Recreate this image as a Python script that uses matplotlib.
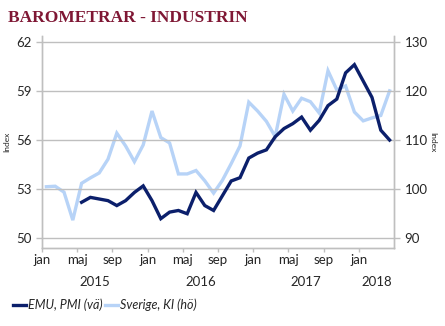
import matplotlib.pyplot as plt
import numpy as np

# months jan 2015 - apr 2018
months = ["jan", "feb", "mar", "apr", "maj", "jun", "jul", "aug", "sep", "okt", "nov", "dec"] * 3 \
    + ["jan", "feb", "mar", "apr"]
years = ["2015", "2016", "2017", "2018"]

# EMU PMI (left axis), starts maj 2015
emu_pmi = [np.nan, np.nan, np.nan, np.nan,
           52.2, 52.5, 52.4, 52.3, 52.0, 52.3, 52.8, 53.2,
           52.3, 51.2, 51.6, 51.7, 51.5, 52.8, 52.0, 51.7, 52.6, 53.5, 53.7, 54.9,
           55.2, 55.4, 56.2, 56.7, 57.0, 57.4, 56.6, 57.2, 58.1, 58.5, 60.1, 60.6,
           59.6, 58.6, 56.6, 56.0]

# Sverige, KI barometer industri (right axis)
sverige_ki = [100.5, 100.6, 99.4, 93.7, 101.2, 102.3, 103.3, 106.1, 111.4, 108.8, 105.6, 109.0,
              115.9, 110.5, 109.4, 103.1, 103.1, 103.8, 101.7, 99.2, 101.8, 105.2, 108.8, 117.7,
              115.9, 113.8, 110.7, 119.3, 115.9, 118.5, 117.8, 115.5, 124.1, 120.2, 121.0, 115.7,
              113.9, 114.5, 115.0, 120.0]

dark = "#0B1F6B"
light = "#B7D3F7"
grid = "#BFBFBF"
txt = "#262626"

plt.rcParams["font.family"] = ["Lato", "DejaVu Sans"]

fig = plt.figure(figsize=(4.45, 3.26), dpi=100)
ax = fig.add_axes([42 / 445, 1 - 247.5 / 326, 352 / 445, 211.5 / 326])
ax2 = ax.twinx()

x = np.arange(len(months)) + 0.5

ax2.plot(x, sverige_ki, color=light, linewidth=2.4, solid_joinstyle="miter")
ax.plot(x, emu_pmi, color=dark, linewidth=2.4, solid_joinstyle="miter")
ax.set_zorder(ax2.get_zorder() + 1)
ax.patch.set_visible(False)

# axis limits (left 50-62 matches right 90-130)
ax.set_xlim(0, len(months))
ax.set_ylim(49.44, 62.35)
ax2.set_ylim(90 + (49.44 - 50) * 40 / 12, 90 + (62.35 - 50) * 40 / 12)
ax.set_yticks([50, 53, 56, 59, 62])
ax2.set_yticks([90, 100, 110, 120, 130])

ax.yaxis.grid(True, color=grid, linewidth=1)
ax.set_axisbelow(True)

# x ticks every 4 months
xt = np.arange(0, len(months), 4)
ax.set_xticks(xt)
ax.set_xticklabels([months[i] for i in xt])

for a in (ax, ax2):
    a.spines["top"].set_visible(False)
    for s in ("left", "right", "bottom"):
        a.spines[s].set_color(grid)
        a.spines[s].set_linewidth(1)
    a.tick_params(colors=grid, labelcolor=txt, labelsize=9.5, length=4, width=1)
ax.tick_params(axis="x", pad=2, length=3)

# year labels under month labels
for k, yr in enumerate(years):
    start = 12 * k
    end = min(12 * (k + 1), len(months))
    ax.text((start + end) / 2, -0.135, yr, transform=ax.get_xaxis_transform(),
            ha="center", va="top", fontsize=9.5, color=txt)

ax.set_ylabel("Index", fontsize=6, color=txt, labelpad=4)
ax2.set_ylabel("Index", fontsize=6, color=txt, rotation=-90, labelpad=6)

fig.text(8 / 445, 1 - 18 / 326, "BAROMETRAR - INDUSTRIN", family="Liberation Serif",
         fontweight="bold", fontsize=12.5, color="#7F1734", va="center", ha="left")

leg = fig.legend(handles=ax.get_lines() + ax2.get_lines(),
                 labels=["EMU, PMI (vä)", "Sverige, KI (hö)"],
                 loc="center left", bbox_to_anchor=(2 / 445, 1 - 305 / 326), ncol=2,
                 frameon=False, handlelength=1.0, handletextpad=0.2, columnspacing=0.2,
                 prop={"style": "italic", "size": 9})
for t in leg.get_texts():
    t.set_color(txt)

fig.savefig("out.png", dpi=100)
